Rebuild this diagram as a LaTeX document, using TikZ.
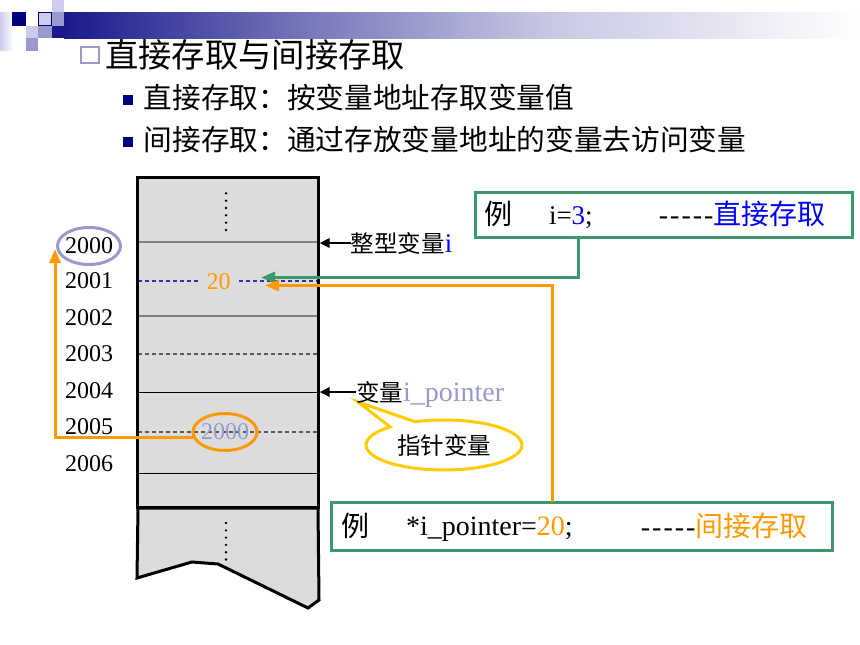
\documentclass[tikz,border=0pt]{standalone}
\usepackage{fontspec}
\setmainfont{Liberation Serif}
\newfontfamily\cjk{Noto Sans CJK SC}
\usetikzlibrary{arrows.meta,shapes.geometric,shapes.callouts}
\definecolor{navyc}{HTML}{000080}
\definecolor{bandl}{HTML}{1A1A8C}
\definecolor{lav}{HTML}{9999CC}
\definecolor{lavl}{HTML}{CCCCEE}
\definecolor{memgray}{HTML}{DCDCDC}
\definecolor{grn}{HTML}{3A9A6A}
\definecolor{org}{HTML}{FF9900}
\definecolor{ylw}{HTML}{FFCC00}
\definecolor{bluet}{HTML}{0000FF}
\definecolor{dashnavy}{HTML}{333399}
\pgfdeclarehorizontalshading{hband}{100bp}{color(0bp)=(bandl); color(25bp)=(bandl); color(40bp)=(bandl!60!white); color(55bp)=(bandl!25!white); color(75bp)=(white); color(100bp)=(white)}
\begin{document}
\begin{tikzpicture}[x=1pt,y=-1pt,
  cjkf/.style={font=\cjk\fontsize{#1}{#1}\selectfont},
  latf/.style={font=\fontsize{#1}{#1}\selectfont},
  txt/.style={inner sep=0pt, outer sep=0pt},
  memrow/.style={line width=1.8pt, draw=black!50},
  memthin/.style={line width=1pt, draw=black},
  memdash/.style={line width=1.2pt, draw=black!65, dash pattern=on 4pt off 3pt},
  gbox/.style={draw=grn, line width=3pt, fill=white, inner sep=0pt},
  blkarrow/.style={line width=2.5pt, -{Triangle[length=10pt,width=9pt]}},
  grnarrow/.style={draw=grn, line width=3pt, -{Triangle[length=14pt,width=11pt]}},
  orgarrow/.style={draw=org, line width=3pt, -{Triangle[length=14pt,width=11pt]}},
  dotc/.style={fill=black}
]
\useasboundingbox (0,0) rectangle (860,645);
\fill[white] (0,0) rectangle (860,645);

% ---------- header decoration ----------
\shade[left color=lavl, right color=white] (0,12) rectangle (13,50);
\fill[lavl] (52,0) rectangle (64,12);
\fill[navyc] (12,12) rectangle (26,26);
\filldraw[fill=lavl, draw=navyc, line width=0.8pt] (38.4,12.4) rectangle (51.6,25.6);
\fill[lav] (52,12) rectangle (64,26);
\fill[lavl] (26,26) rectangle (38,38);
\fill[lav] (38,26) rectangle (52,38);
\fill[lav] (26,38) rectangle (38,51);
\shade[shading=hband] (64,12) rectangle (860,38);
\fill[bandl] (52,26) rectangle (64,38);

% ---------- title and bullets ----------
\draw[lav, line width=1.5pt] (81,47) rectangle (99,63);
\node[txt, cjkf=33.3, anchor=west] (title) at (105.3,55) {直接存取与间接存取};
\fill[navyc] (123,95) rectangle (133,105);
\node[txt, cjkf=28.7, anchor=west] (b1) at (143.6,97) {直接存取：按变量地址存取变量值};
\fill[navyc] (123,137) rectangle (133,147);
\node[txt, cjkf=28.7, anchor=west] (b2) at (143.6,139) {间接存取：通过存放变量地址的变量去访问变量};

% ---------- memory block ----------
\filldraw[fill=memgray, draw=black, line width=3pt, line join=miter]
  (138,508) -- (137,578) -- (192,562) -- (218,564) -- (308,608) -- (319,600) -- (318,508) -- cycle;
\fill[memgray] (137,177) rectangle (318,507);
\draw[memrow] (138,242) -- (317,242);
\draw[line width=1.2pt, draw=dashnavy, dash pattern=on 4pt off 3pt] (138,281) -- (199,281);
\draw[line width=1.2pt, draw=dashnavy, dash pattern=on 4pt off 3pt] (239,281) -- (317,281);
\draw[memrow] (138,316) -- (317,316);
\draw[memdash] (138,354) -- (317,354);
\draw[memthin] (138,392) -- (317,392);
\draw[memdash] (138,432) -- (317,432);
\draw[memthin] (138,473) -- (317,473);
\node[draw=black, line width=3pt, minimum width=181pt, minimum height=330pt, inner sep=0pt] (mem) at (227.5,342) {};
\foreach \yy in {193.3,200.7,208,215.3,222.7,230} \fill[dotc] (226,\yy) circle (1.3pt);
\foreach \yy in {523,530.3,537.6,544.9,552.2,559.5} \fill[dotc] (226,\yy) circle (1.3pt);

% addresses
\node[txt, latf=24] (a0) at (89,246) {2000};
\node[txt, latf=24] (a1) at (89,281) {2001};
\node[txt, latf=24] (a2) at (89,318) {2002};
\node[txt, latf=24] (a3) at (89,354) {2003};
\node[txt, latf=24] (a4) at (89,391) {2004};
\node[txt, latf=24] (a5) at (89,427) {2005};
\node[txt, latf=24] (a6) at (89,464) {2006};
\node[ellipse, draw=lav, line width=3pt, minimum width=63pt, minimum height=37pt, inner sep=0pt] (ell1) at (89,246) {};

% values in memory
\node[txt, latf=24, text=org] (v20) at (218.5,282) {20};
\node[txt, latf=24, text=lav] (v2000) at (225,432) {2000};
\node[ellipse, draw=org, line width=3pt, minimum width=64pt, minimum height=37pt, inner sep=0pt] (ell2) at (225,432) {};

% ---------- callout ----------
\coordinate (ctip) at (358,402);
\node[ellipse callout, draw=ylw, line width=3pt, fill=white, minimum width=156pt, minimum height=50pt,
      inner sep=0pt, callout absolute pointer={(ctip)}, callout pointer arc=22, cjkf=23.5] (bubble) at (444,445) {指针变量};

% ---------- labels on the right ----------
\node[txt, cjkf=23.5, anchor=west] (lab1) at (350.8,243) {整型变量};
\node[txt, latf=27, text=bluet, anchor=base west] (lab1i) at (lab1.base east) {i};
\node[txt, cjkf=23.5, anchor=west] (lab2) at (356,392) {变量};
\node[txt, latf=28, text=lav, anchor=base west] (lab2p) at (lab2.base east) {i\_pointer};
\draw[blkarrow] (lab1.west) -- (lab1.west -| mem.east);
\draw[blkarrow] (lab2.west) -- (lab2.west -| mem.east);

% ---------- example boxes ----------
\node[gbox, minimum width=377pt, minimum height=45pt] (box1) at (663.5,214.5) {};
\node[txt, cjkf=28, anchor=base west] (ex1) at (484,224) {例};
\node[txt, latf=27, anchor=base west] (code1) at (549,224) {i=\textcolor{bluet}{3};};
\node[txt, cjkf=28, text=bluet, anchor=base west] (kind1) at (713.5,224) {直接存取};
\node[txt, latf=28, anchor=base east] (dash1) at (kind1.base west) {-\kern2pt-\kern2pt-\kern2pt-\kern2pt-};

\node[gbox, minimum width=501pt, minimum height=48pt] (box2) at (582,526.5) {};
\node[txt, cjkf=28, anchor=base west] (ex2) at (341,536) {例};
\node[txt, latf=28, anchor=base west] (code2) at (406,535) {*i\_pointer=\textcolor{org}{20};};
\node[txt, cjkf=28, text=org, anchor=base west] (kind2) at (695.5,536) {间接存取};
\node[txt, latf=28, anchor=base east] (dash2) at (kind2.base west) {-\kern2pt-\kern2pt-\kern2pt-\kern2pt-};

% ---------- connectors ----------
\coordinate (g3) at (578.5,238);
\coordinate (gtip) at (261,277.5);
\draw[grnarrow] (g3) |- (gtip);
\coordinate (o20) at (552,502);
\coordinate (otip) at (265,285.5);
\draw[orgarrow] (o20) |- (otip);
\coordinate (a2000) at (55,249);
\draw[orgarrow] (ell2.190) -| (a2000);
\end{tikzpicture}
\end{document}
